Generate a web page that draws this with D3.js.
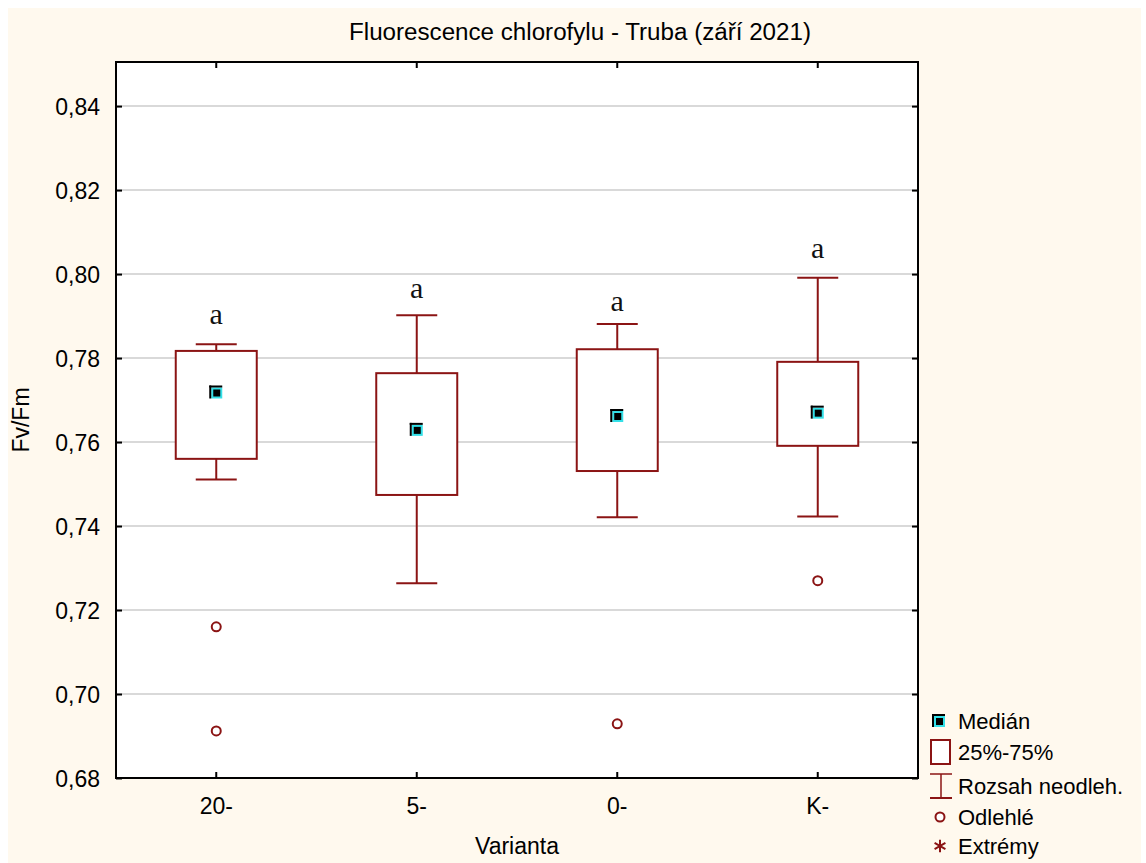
<!DOCTYPE html>
<html><head><meta charset="utf-8">
<script src="https://cdn.jsdelivr.net/npm/d3@7"></script>
<style>body{margin:0;background:#fff;}svg{display:block;}</style>
</head><body>
<svg id="c" width="1146" height="863"></svg>
<script>
const categories = ["20-", "5-", "0-", "K-"];
const medians = [0.7718, 0.7629, 0.7662, 0.7670];
const q1 = [0.7560, 0.7474, 0.7531, 0.7591];
const q3 = [0.7817, 0.7764, 0.7821, 0.7791];
const whiskerLow = [0.7511, 0.7264, 0.7421, 0.7423];
const whiskerHigh = [0.7833, 0.7902, 0.7881, 0.7991];
const outliers = [[0.7160, 0.6912], [], [0.6929], [0.7270]];
const letters = ["a", "a", "a", "a"];
const letterY = [0.7907, 0.7969, 0.7938, 0.8064];
const yTicks = [0.68, 0.70, 0.72, 0.74, 0.76, 0.78, 0.80, 0.82, 0.84];
const legendLabels = ["Medián", "25%-75%", "Rozsah neodleh.", "Odlehlé", "Extrémy"];

const W = 1146, H = 863;
const m = {l: 116, r: 918, t: 62, b: 778};
const red = "#8B1414";
const font = "'Liberation Sans', Arial, sans-serif";
const svg = d3.select("#c");

svg.append("rect").attr("x", 8).attr("y", 8).attr("width", 1133).attr("height", H - 8).attr("fill", "#FFF9EE");

const x = d3.scaleBand().domain(categories).range([m.l, m.r]).padding(0);
const y = d3.scaleLinear().domain([0.68, 0.8505]).range([m.b, m.t]);
const cx = c => x(c) + x.bandwidth() / 2;
const fmt = v => d3.format(".2f")(v).replace(".", ",");

svg.append("rect").attr("x", m.l).attr("y", m.t).attr("width", m.r - m.l).attr("height", m.b - m.t).attr("fill", "#fff");

// gridlines
svg.append("g").selectAll("line").data(yTicks.filter(v => v > 0.68)).join("line")
  .attr("x1", m.l).attr("x2", m.r).attr("y1", d => y(d)).attr("y2", d => y(d))
  .attr("stroke", "#d9d9d9").attr("stroke-width", 2);

// axes
const yAxisL = d3.axisLeft(y).tickValues(yTicks).tickSize(-6).tickPadding(16).tickFormat(fmt);
const gL = svg.append("g").attr("transform", `translate(${m.l},0)`).call(yAxisL);
gL.select(".domain").remove();
gL.selectAll("line").attr("stroke", "#000").attr("stroke-width", 2);
gL.selectAll("text").attr("font-family", font).attr("font-size", 23).attr("fill", "#000").attr("dy", "0.36em");

const yAxisR = d3.axisRight(y).tickValues(yTicks).tickSize(-6).tickFormat("");
const gR = svg.append("g").attr("transform", `translate(${m.r},0)`).call(yAxisR);
gR.select(".domain").remove();
gR.selectAll("line").attr("stroke", "#000").attr("stroke-width", 2);

const xAxisB = d3.axisBottom(x).tickSize(-6).tickPadding(20);
const gB = svg.append("g").attr("transform", `translate(0,${m.b})`).call(xAxisB);
gB.select(".domain").remove();
gB.selectAll("line").attr("stroke", "#000").attr("stroke-width", 2);
gB.selectAll("text").attr("font-family", font).attr("font-size", 23).attr("fill", "#000").attr("dy", "0.71em");

const xAxisT = d3.axisTop(x).tickSize(-6).tickFormat("");
const gT = svg.append("g").attr("transform", `translate(0,${m.t})`).call(xAxisT);
gT.select(".domain").remove();
gT.selectAll("line").attr("stroke", "#000").attr("stroke-width", 2);

svg.append("rect").attr("x", m.l).attr("y", m.t).attr("width", m.r - m.l).attr("height", m.b - m.t)
  .attr("fill", "none").attr("stroke", "#000").attr("stroke-width", 2);

// boxes
const boxW = 81, capW = 41;
const g = svg.append("g");
categories.forEach((c, i) => {
  const X = cx(c);
  g.append("line").attr("x1", X).attr("x2", X).attr("y1", y(whiskerHigh[i])).attr("y2", y(q3[i])).attr("stroke", red).attr("stroke-width", 2);
  g.append("line").attr("x1", X).attr("x2", X).attr("y1", y(q1[i])).attr("y2", y(whiskerLow[i])).attr("stroke", red).attr("stroke-width", 2);
  [whiskerHigh[i], whiskerLow[i]].forEach(v => {
    g.append("line").attr("x1", X - capW / 2).attr("x2", X + capW / 2).attr("y1", y(v)).attr("y2", y(v)).attr("stroke", red).attr("stroke-width", 2);
  });
  g.append("rect").attr("x", X - boxW / 2).attr("y", y(q3[i])).attr("width", boxW).attr("height", y(q1[i]) - y(q3[i]))
    .attr("fill", "#fff").attr("stroke", red).attr("stroke-width", 2);
  drawMedian(g, X, y(medians[i]));
  outliers[i].forEach(v => {
    g.append("circle").attr("cx", X).attr("cy", y(v)).attr("r", 4.5).attr("fill", "#fff").attr("stroke", red).attr("stroke-width", 2);
  });
  g.append("text").attr("x", X).attr("y", y(letterY[i])).attr("text-anchor", "middle").attr("dominant-baseline", "central")
    .attr("font-family", "'Liberation Serif', 'Times New Roman', serif").attr("font-size", 30).attr("fill", "#111").text(letters[i]);
});

function drawMedian(sel, X, Y) {
  sel.append("rect").attr("x", X - 5).attr("y", Y - 5).attr("width", 11).attr("height", 11).attr("fill", "#33E0E8");
  sel.append("rect").attr("x", X - 7).attr("y", Y - 7).attr("width", 13).attr("height", 2).attr("fill", "#000");
  sel.append("rect").attr("x", X - 7).attr("y", Y - 7).attr("width", 2).attr("height", 13).attr("fill", "#000");
  sel.append("rect").attr("x", X - 3).attr("y", Y - 3).attr("width", 7).attr("height", 7).attr("fill", "#000");
}

// titles
svg.append("text").attr("x", 580).attr("y", 40).attr("text-anchor", "middle").attr("font-family", font).attr("font-size", 23)
  .attr("textLength", 462).attr("lengthAdjust", "spacingAndGlyphs").attr("fill", "#000")
  .text("Fluorescence chlorofylu - Truba (září 2021)");
svg.append("text").attr("x", (m.l + m.r) / 2).attr("y", 854).attr("text-anchor", "middle").attr("font-family", font).attr("font-size", 23).attr("fill", "#000").text("Varianta");
svg.append("text").attr("transform", "translate(29,420) rotate(-90)").attr("text-anchor", "middle").attr("font-family", font).attr("font-size", 23).attr("fill", "#000").text("Fv/Fm");

// legend
const lg = svg.append("g");
const ly = [721, 752, 786, 817, 846];
lg.selectAll("text").data(legendLabels).join("text").attr("x", 958).attr("y", (d, i) => ly[i]).attr("dy", "0.36em")
  .attr("font-family", font).attr("font-size", 22).attr("fill", "#000").text(d => d);
drawMedian(lg, 939, 721);
lg.append("rect").attr("x", 931).attr("y", 740).attr("width", 19).attr("height", 24).attr("fill", "#fff").attr("stroke", red).attr("stroke-width", 2);
lg.append("line").attr("x1", 930).attr("x2", 952).attr("y1", 774).attr("y2", 774).attr("stroke", red).attr("stroke-width", 1.5);
lg.append("line").attr("x1", 941).attr("x2", 941).attr("y1", 774).attr("y2", 798).attr("stroke", red).attr("stroke-width", 1.5);
lg.append("line").attr("x1", 930).attr("x2", 952).attr("y1", 798).attr("y2", 798).attr("stroke", red).attr("stroke-width", 2);
lg.append("circle").attr("cx", 940).attr("cy", 817).attr("r", 4.5).attr("fill", "#fff").attr("stroke", red).attr("stroke-width", 2);
lg.append("path").attr("d", d3.symbol(d3.symbolAsterisk, 110)()).attr("transform", "translate(940,846)").attr("fill", "none").attr("stroke", red).attr("stroke-width", 2);
</script>
</body></html>
